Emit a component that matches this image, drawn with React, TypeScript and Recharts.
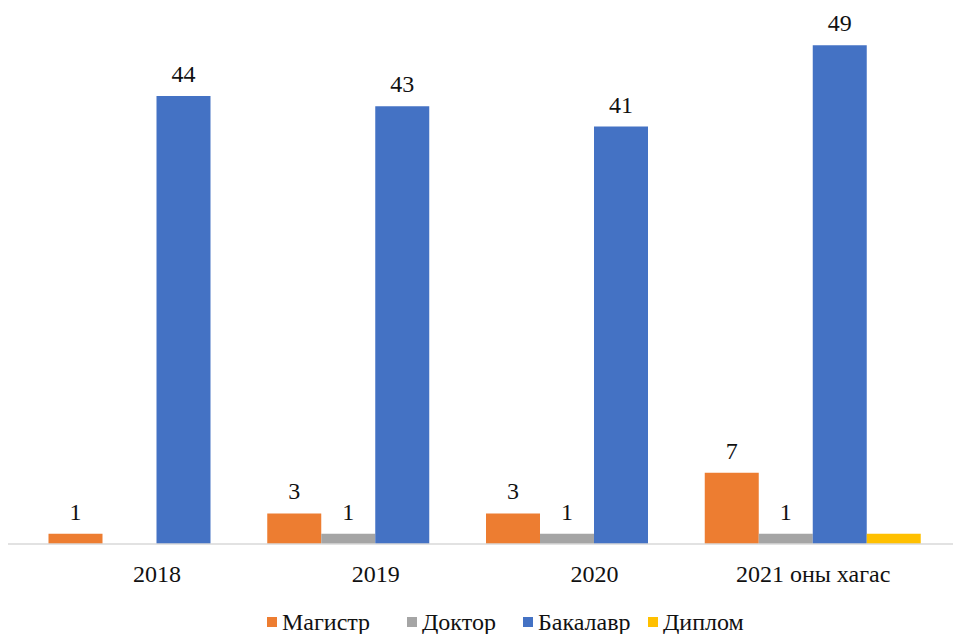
import React from 'react';
import { BarChart, Bar, XAxis, YAxis, Legend, LabelList } from 'recharts';

const categories = ['2018', '2019', '2020', '2021 оны хагас'];
const magistr = [1, 3, 3, 7];
const doktor = [0, 1, 1, 1];
const bakalavr = [44, 43, 41, 49];
const diplom = [0, 0, 0, 1];

const seriesNames = ['Магистр', 'Доктор', 'Бакалавр', 'Диплом'];
const seriesKeys = ['magistr', 'doktor', 'bakalavr', 'diplom'];
const seriesColors = ['#ED7D31', '#A5A5A5', '#4472C4', '#FFC000'];

const data = categories.map((c, i) => ({
  name: c,
  magistr: magistr[i],
  doktor: doktor[i],
  bakalavr: bakalavr[i],
  diplom: diplom[i],
}));

const FONT = 'Liberation Serif';
const TEXT = '#111';
const legendItemWidths = [140, 116, 125, 110];

const fmt = (v: any) => (v === 0 || v == null ? '' : String(v));

const renderLegend = () => (
  <div
    style={{
      height: 24,
      display: 'flex',
      alignItems: 'center',
      paddingLeft: 267,
      fontFamily: FONT,
      fontSize: 24,
      color: TEXT,
      lineHeight: '24px',
    }}
  >
    {seriesNames.map((n, i) => (
      <div key={n} style={{ display: 'flex', alignItems: 'center', width: legendItemWidths[i], whiteSpace: 'nowrap' }}>
        <span style={{ width: 10, height: 10, background: seriesColors[i], display: 'inline-block', marginRight: 5, flexShrink: 0 }} />
        <span style={{ fontFamily: FONT }}>{n}</span>
      </div>
    ))}
  </div>
);

export default function App() {
  return (
    <div style={{ position: 'absolute', left: 0, top: 0, background: '#fff', fontFamily: FONT }}>
      <BarChart
        width={953}
        height={634}
        data={data}
        margin={{ top: 35, right: 0, bottom: 0, left: 8 }}
        barGap={0}
        barCategoryGap={2}
        style={{ fontFamily: FONT }}
      >
        <XAxis
          dataKey="name"
          height={66}
          padding={{ left: 39.5, right: 30.5 }}
          axisLine={{ stroke: '#D9D9D9', strokeWidth: 1.5 }}
          tickLine={false}
          tickSize={0}
          tickMargin={21}
          tick={{ fontFamily: FONT, fontSize: 24, fill: TEXT }}
          interval={0}
        />
        <YAxis hide domain={[0, 50]} />
        <Legend verticalAlign="bottom" content={renderLegend} wrapperStyle={{ left: 0, width: 953 }} />
        {seriesKeys.map((k, i) => (
          <Bar key={k} dataKey={k} name={seriesNames[i]} fill={seriesColors[i]} barSize={54} isAnimationActive={false}>
            {k !== 'diplom' && (
              <LabelList
                dataKey={k}
                position="top"
                offset={14}
                formatter={fmt}
                fontFamily={FONT}
                fontSize={24}
                fill={TEXT}
              />
            )}
          </Bar>
        ))}
      </BarChart>
    </div>
  );
}
